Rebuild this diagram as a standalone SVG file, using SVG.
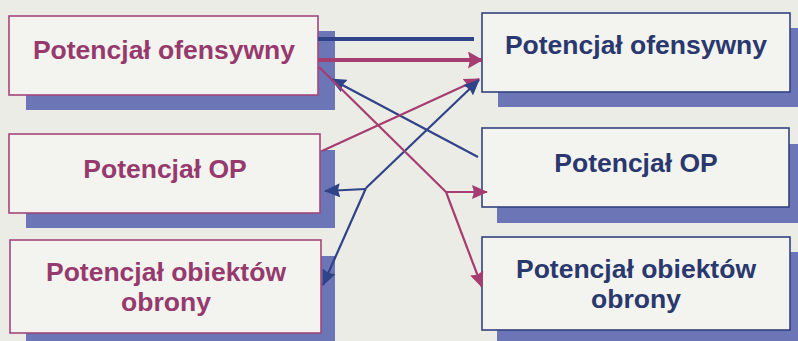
<svg xmlns="http://www.w3.org/2000/svg" width="798" height="341" viewBox="0 0 798 341">
  <style>
    .shadow { fill: #6c75b6; }
    .box-l { fill: #f3f3ef; stroke: #a3477a; stroke-width: 1.6; }
    .box-r { fill: #f3f3ef; stroke: #33417f; stroke-width: 1.6; }
    .lbl { font-family: "Liberation Sans", Arial, sans-serif; font-weight: bold; font-size: 26.5px; text-anchor: middle; }
    .lbl-l { fill: #963a6d; }
    .lbl-r { fill: #2a386e; }
    .ln { fill: none; stroke-linecap: butt; stroke-linejoin: miter; }
    .pink { stroke: #a53d70; }
    .blue { stroke: #2f4388; }
  </style>
  <defs>
    <marker id="ah-pink" viewBox="0 0 16 14" markerWidth="16" markerHeight="14" refX="15" refY="7" orient="auto" markerUnits="userSpaceOnUse">
      <path d="M0,0 L16,7 L0,14 L2,7 z" fill="#a53d70"/>
    </marker>
    <marker id="ah-blue" viewBox="0 0 16 14" markerWidth="16" markerHeight="14" refX="15" refY="7" orient="auto" markerUnits="userSpaceOnUse">
      <path d="M0,0 L16,7 L0,14 L2,7 z" fill="#2f4388"/>
    </marker>
    <marker id="ah-pink-lg" viewBox="0 0 15 17" markerWidth="15" markerHeight="17" refX="14" refY="8.5" orient="auto" markerUnits="userSpaceOnUse">
      <path d="M0,0 L15,8.5 L0,17 L2,8.5 z" fill="#a53d70"/>
    </marker>
  </defs>

  <rect width="798" height="341" fill="#ececE7"/>

  <!-- left column -->
  <g id="left-ofensywny">
    <rect class="shadow" x="26" y="31" width="309" height="79"/>
    <rect class="box-l" x="9" y="16" width="309" height="79"/>
    <text class="lbl lbl-l" x="164" y="59">Potencjał ofensywny</text>
  </g>
  <g id="left-op">
    <rect class="shadow" x="26" y="150" width="309" height="78"/>
    <rect class="box-l" x="9" y="134" width="311" height="79"/>
    <text class="lbl lbl-l" x="165" y="178">Potencjał OP</text>
  </g>
  <g id="left-obiekty">
    <rect class="shadow" x="26" y="256" width="309" height="93"/>
    <rect class="box-l" x="10" y="240" width="311" height="93"/>
    <text class="lbl lbl-l" x="166" y="281">Potencjał obiektów<tspan x="166" dy="30">obrony</tspan></text>
  </g>

  <!-- right column -->
  <g id="right-ofensywny">
    <rect class="shadow" x="498" y="28" width="308" height="79"/>
    <rect class="box-r" x="482" y="13" width="308" height="79"/>
    <text class="lbl lbl-r" x="636" y="54">Potencjał ofensywny</text>
  </g>
  <g id="right-op">
    <rect class="shadow" x="497" y="144" width="308" height="79"/>
    <rect class="box-r" x="482" y="128" width="307" height="79"/>
    <text class="lbl lbl-r" x="636" y="172">Potencjał OP</text>
  </g>
  <g id="right-obiekty">
    <rect class="shadow" x="497" y="252" width="308" height="93"/>
    <rect class="box-r" x="482" y="237" width="308" height="93"/>
    <text class="lbl lbl-r" x="636" y="278">Potencjał obiektów<tspan x="636" dy="30">obrony</tspan></text>
  </g>

  <!-- connectors -->
  <g id="connectors">
    <path class="ln blue" stroke-width="4" d="M318,39 L474,39"/>
    <path class="ln pink" stroke-width="4" d="M318,60 L482,60" marker-end="url(#ah-pink-lg)"/>

    <path class="ln blue" stroke-width="2.2" d="M478,157 L331,79" marker-end="url(#ah-blue)"/>
    <path class="ln pink" stroke-width="2.2" d="M322,151 L479,79" marker-end="url(#ah-pink)"/>

    <path class="ln blue" stroke-width="2.2" d="M366,188 L479,80" marker-end="url(#ah-blue)"/>
    <path class="ln blue" stroke-width="2.2" d="M366,189 L325,191" marker-end="url(#ah-blue)"/>
    <path class="ln blue" stroke-width="2.2" d="M366,188 L323,285" marker-end="url(#ah-blue)"/>

    <path class="ln pink" stroke-width="2.2" d="M319,67 L446,192"/>
    <path class="ln pink" stroke-width="2.2" d="M446,192 L487,192" marker-end="url(#ah-pink)"/>
    <path class="ln pink" stroke-width="2.2" d="M446,192 L482,287" marker-end="url(#ah-pink)"/>
  </g>
</svg>
